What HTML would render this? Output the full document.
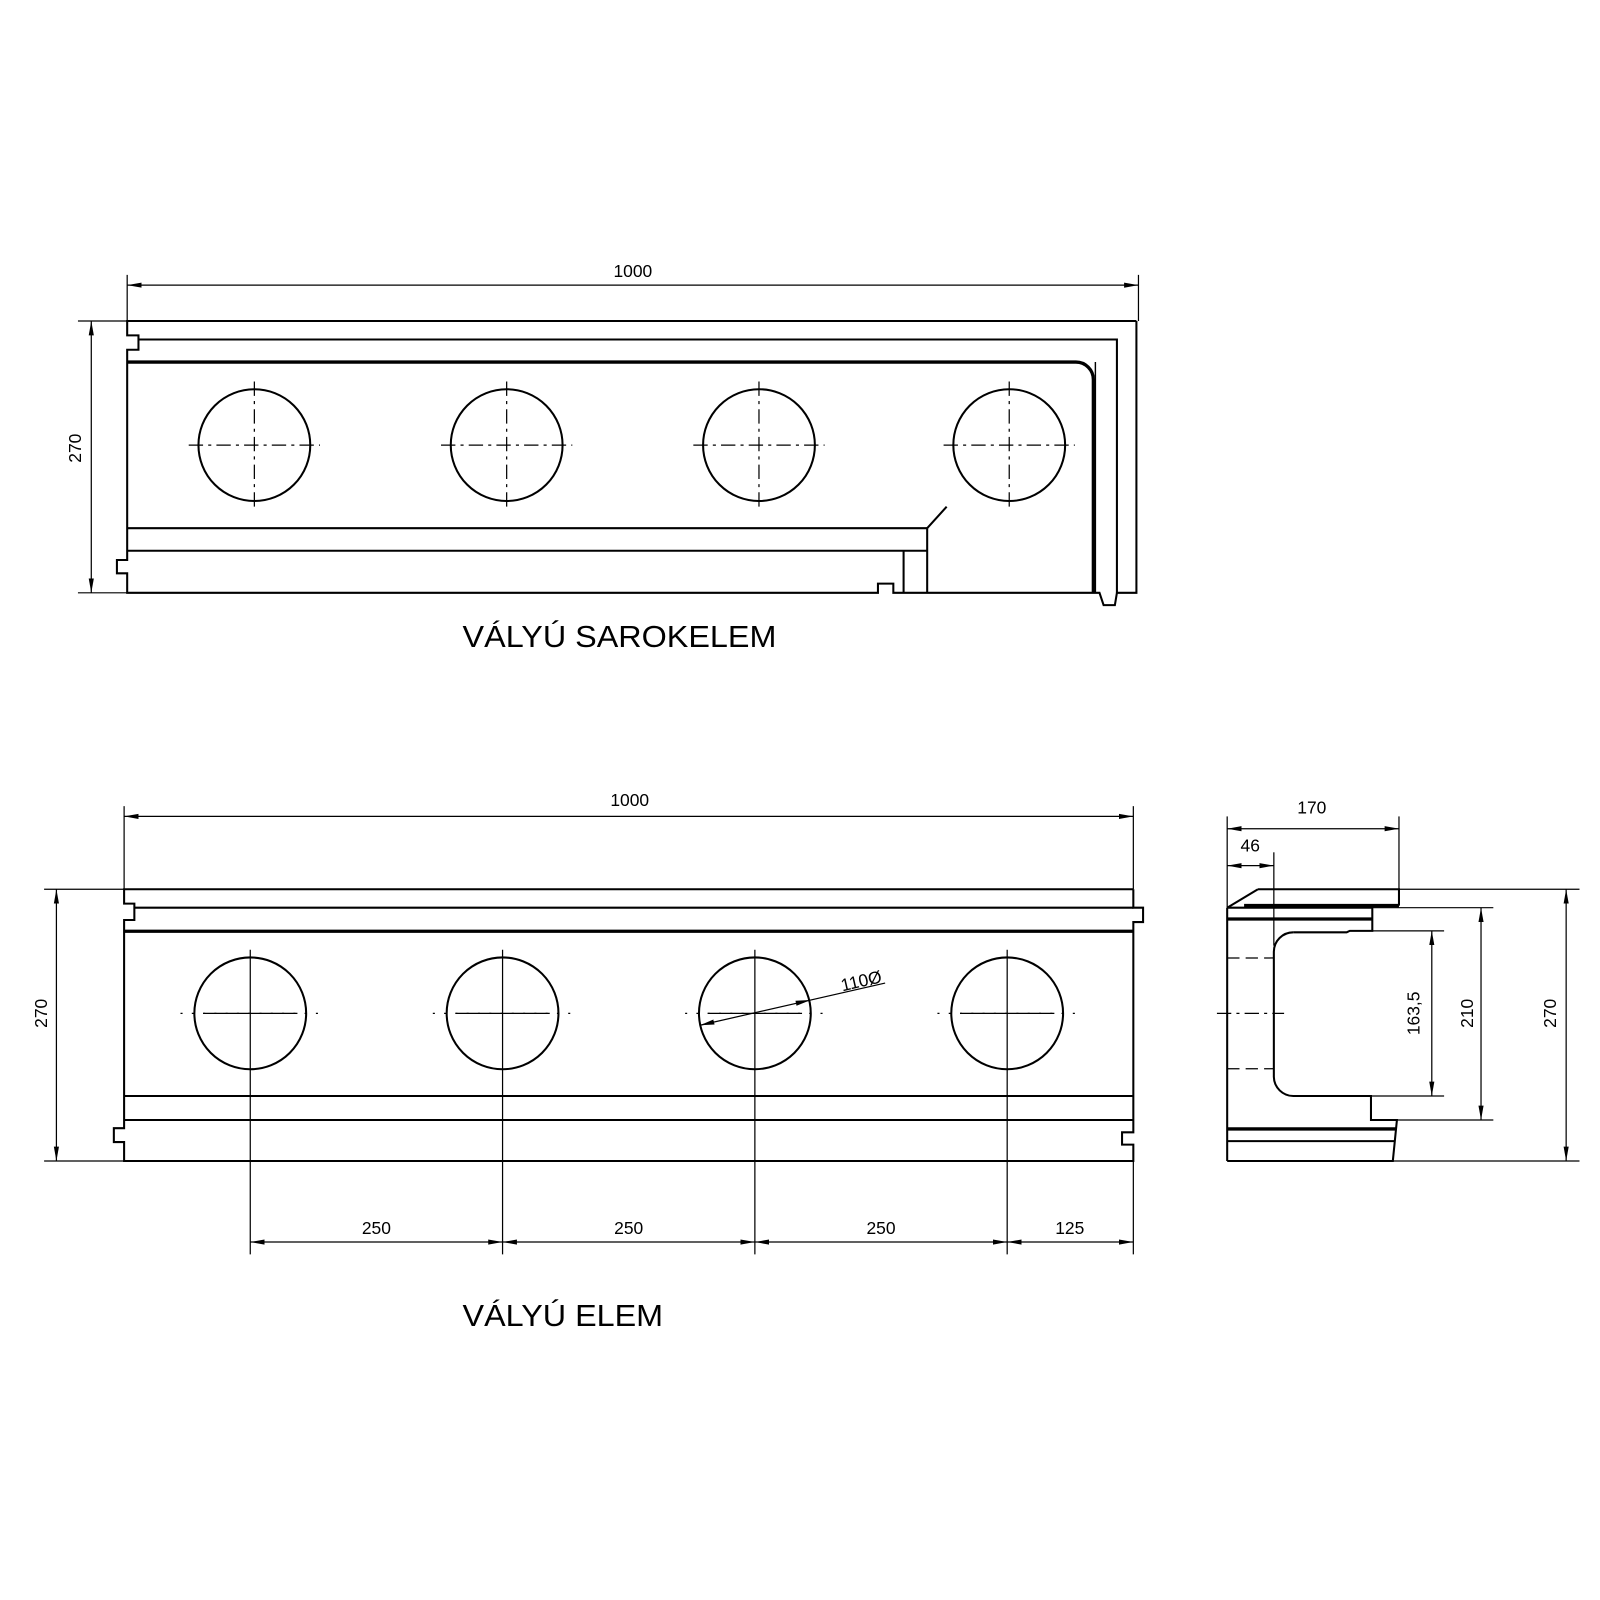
<!DOCTYPE html>
<html><head><meta charset="utf-8"><style>
html,body{margin:0;padding:0;background:#fff;}
svg{display:block;}
text{font-family:"Liberation Sans","DejaVu Sans",sans-serif;fill:#000;}
</style></head><body>
<svg xmlns="http://www.w3.org/2000/svg" width="1600" height="1600" viewBox="0 0 1560 1560">
<defs>
<marker id="a" markerWidth="16" markerHeight="8" refX="14" refY="4" orient="auto-start-reverse" markerUnits="userSpaceOnUse"><path d="M0,1.5 L14,4 L0,6.5 Z" fill="#000"/></marker>
</defs>
<g fill="none" stroke="#000" stroke-width="1.2">
<!-- ===== TOP DRAWING ===== -->
<line x1="124" y1="278" x2="1110" y2="278" marker-start="url(#a)" marker-end="url(#a)"/>
<line x1="124" y1="268" x2="124" y2="313"/>
<line x1="1110" y1="268" x2="1110" y2="313"/>
<line x1="89" y1="313" x2="89" y2="578" marker-start="url(#a)" marker-end="url(#a)"/>
<line x1="76" y1="313" x2="124" y2="313"/>
<line x1="76" y1="578" x2="124" y2="578"/>
</g>
<g fill="none" stroke="#000" stroke-width="2">
<polyline points="1108,313 124,313 124,327 135,327 135,341 124,341 124,546 114,546 114,559 124,559 124,578 856,578 856,569 871,569 871,578 1072,578 1076,590 1087,590 1089,578 1108,578 1108,313"/>
<polyline points="135,331 1089,331 1089,578"/>
<line x1="124" y1="515" x2="904" y2="515"/>
<line x1="904" y1="515" x2="904" y2="578"/>
<line x1="904" y1="515" x2="923" y2="494"/>
<line x1="124" y1="537" x2="904" y2="537"/>
<line x1="881" y1="537" x2="881" y2="578"/>
<polyline points="1068,353 1068,578" stroke-width="1.4"/>
</g>
<path d="M124,353 L1049,353 A17,17 0 0 1 1066,370 L1066,578" fill="none" stroke="#000" stroke-width="3.2"/>
<g fill="none" stroke="#000" stroke-width="2">
<circle cx="248" cy="434" r="54.5"/><circle cx="494" cy="434" r="54.5"/><circle cx="740" cy="434" r="54.5"/><circle cx="984" cy="434" r="54.5"/>
</g>
<g fill="none" stroke="#000" stroke-width="1.2" stroke-dasharray="14,5,3,5">
<line x1="184" y1="434" x2="312" y2="434"/><line x1="248" y1="372" x2="248" y2="498"/>
<line x1="430" y1="434" x2="558" y2="434"/><line x1="494" y1="372" x2="494" y2="498"/>
<line x1="676" y1="434" x2="804" y2="434"/><line x1="740" y1="372" x2="740" y2="498"/>
<line x1="920" y1="434" x2="1048" y2="434"/><line x1="984" y1="372" x2="984" y2="498"/>
</g>
<text x="617" y="270" font-size="17" text-anchor="middle">1000</text>
<text transform="translate(79,437) rotate(-90)" font-size="17" text-anchor="middle">270</text>
<text x="451" y="631" font-size="30" textLength="306" lengthAdjust="spacingAndGlyphs">VÁLYÚ SAROKELEM</text>

<!-- ===== BOTTOM DRAWING ===== -->
<g fill="none" stroke="#000" stroke-width="1.2">
<line x1="121" y1="796" x2="1105" y2="796" marker-start="url(#a)" marker-end="url(#a)"/>
<line x1="121" y1="786" x2="121" y2="867"/>
<line x1="1105" y1="786" x2="1105" y2="867"/>
<line x1="55" y1="867" x2="55" y2="1132" marker-start="url(#a)" marker-end="url(#a)"/>
<line x1="43" y1="867" x2="121" y2="867"/>
<line x1="43" y1="1132" x2="121" y2="1132"/>
<line x1="244" y1="1211" x2="490" y2="1211" marker-start="url(#a)" marker-end="url(#a)"/>
<line x1="490" y1="1211" x2="736" y2="1211" marker-start="url(#a)" marker-end="url(#a)"/>
<line x1="736" y1="1211" x2="982" y2="1211" marker-start="url(#a)" marker-end="url(#a)"/>
<line x1="982" y1="1211" x2="1105" y2="1211" marker-start="url(#a)" marker-end="url(#a)"/>
<line x1="1105" y1="1132" x2="1105" y2="1223"/>
<line x1="244" y1="926" x2="244" y2="1223"/>
<line x1="490" y1="926" x2="490" y2="1223"/>
<line x1="736" y1="926" x2="736" y2="1223"/>
<line x1="982" y1="926" x2="982" y2="1223"/>
<line x1="198" y1="988" x2="290" y2="988"/>
<line x1="444" y1="988" x2="536" y2="988"/>
<line x1="690" y1="988" x2="782" y2="988"/>
<line x1="936" y1="988" x2="1028" y2="988"/>
<line x1="682.5" y1="999.6" x2="863" y2="958.5" marker-start="url(#a)"/>
</g>
<g fill="none" stroke="#000" stroke-width="1.2" stroke-dasharray="2,9">
<line x1="176" y1="988" x2="312" y2="988"/><line x1="422" y1="988" x2="558" y2="988"/>
<line x1="668" y1="988" x2="804" y2="988"/><line x1="914" y1="988" x2="1050" y2="988"/>
</g>
<path d="M790.5,975 L776.6,980.6 L775.6,975.7 Z" fill="#000"/>
<g fill="none" stroke="#000" stroke-width="2">
<polyline points="1105,867 121,867 121,881 131,881 131,897 121,897 121,1100 111,1100 111,1113.5 121,1113.5 121,1132 1105,1132 1105,1116 1094,1116 1094,1104 1105,1104 1105,899 1114.5,899 1114.5,885 1105,885 1105,867"/>
<line x1="131" y1="885" x2="1105" y2="885"/>
<line x1="121" y1="1068.6" x2="1105" y2="1068.6"/>
<line x1="121" y1="1092" x2="1105" y2="1092"/>
<circle cx="244" cy="988" r="54.5"/><circle cx="490" cy="988" r="54.5"/><circle cx="736" cy="988" r="54.5"/><circle cx="982" cy="988" r="54.5"/>
</g>
<line x1="121" y1="908" x2="1105" y2="908" stroke="#000" stroke-width="3.2"/>
<text x="614" y="786" font-size="17" text-anchor="middle">1000</text>
<text transform="translate(46,988) rotate(-90)" font-size="17" text-anchor="middle">270</text>
<text x="367" y="1203" font-size="17" text-anchor="middle">250</text>
<text x="613" y="1203" font-size="17" text-anchor="middle">250</text>
<text x="859" y="1203" font-size="17" text-anchor="middle">250</text>
<text x="1043" y="1203" font-size="17" text-anchor="middle">125</text>
<text transform="translate(841,962) rotate(-13)" font-size="17" text-anchor="middle">110Ø</text>
<text x="451" y="1293" font-size="30" textLength="195.5" lengthAdjust="spacingAndGlyphs">VÁLYÚ ELEM</text>

<!-- ===== SIDE VIEW ===== -->
<g fill="none" stroke="#000" stroke-width="1.2">
<line x1="1196.5" y1="808" x2="1364" y2="808" marker-start="url(#a)" marker-end="url(#a)"/>
<line x1="1196.5" y1="796" x2="1196.5" y2="885"/>
<line x1="1364" y1="796" x2="1364" y2="867"/>
<line x1="1196.5" y1="844" x2="1242" y2="844" marker-start="url(#a)" marker-end="url(#a)"/>
<line x1="1242" y1="831" x2="1242" y2="922"/>
<line x1="1364" y1="867" x2="1540" y2="867"/>
<line x1="1358" y1="1132" x2="1540" y2="1132"/>
<line x1="1527" y1="867" x2="1527" y2="1132" marker-start="url(#a)" marker-end="url(#a)"/>
<line x1="1338" y1="885" x2="1456" y2="885"/>
<line x1="1362" y1="1092" x2="1456" y2="1092"/>
<line x1="1444" y1="885" x2="1444" y2="1092" marker-start="url(#a)" marker-end="url(#a)"/>
<line x1="1338" y1="907.6" x2="1408" y2="907.6"/>
<line x1="1336.7" y1="1068.6" x2="1408" y2="1068.6"/>
<line x1="1396" y1="907.6" x2="1396" y2="1068.6" marker-start="url(#a)" marker-end="url(#a)"/>
<line x1="1186.5" y1="988" x2="1252" y2="988" stroke-dasharray="14,5,3,5"/>
<line x1="1196.5" y1="934" x2="1242" y2="934" stroke-dasharray="12,6"/>
<line x1="1196.5" y1="1042" x2="1242" y2="1042" stroke-dasharray="12,6"/>
</g>
<g fill="none" stroke="#000" stroke-width="2">
<polyline points="1226.5,867 1364,867 1364,883"/>
<line x1="1226.5" y1="867" x2="1196.5" y2="885"/>
<line x1="1196.5" y1="885" x2="1196.5" y2="1132"/>
<polyline points="1196.5,885 1338,885 1338,907.6 1316,907.6 1313,909 1261,909"/>
<path d="M1261,909 A19,19 0 0 0 1242,928 L1242,1050 A19,19 0 0 0 1261,1068.6 L1336.7,1068.6 L1336.7,1092 L1362,1092 L1358,1132 L1196.5,1132"/>
<line x1="1196.5" y1="1112.6" x2="1360" y2="1112.6"/>
</g>
<line x1="1213" y1="883" x2="1364" y2="883" stroke="#000" stroke-width="3.5"/>
<line x1="1196.5" y1="896" x2="1338" y2="896" stroke="#000" stroke-width="3.2"/>
<line x1="1196.5" y1="1100.7" x2="1361" y2="1100.7" stroke="#000" stroke-width="3.2"/>
<text x="1279" y="793" font-size="17" text-anchor="middle">170</text>
<text x="1219" y="830" font-size="17" text-anchor="middle">46</text>
<text transform="translate(1384,988) rotate(-90)" font-size="17" text-anchor="middle">163,5</text>
<text transform="translate(1436,988) rotate(-90)" font-size="17" text-anchor="middle">210</text>
<text transform="translate(1517,988) rotate(-90)" font-size="17" text-anchor="middle">270</text>
</svg>
</body></html>
